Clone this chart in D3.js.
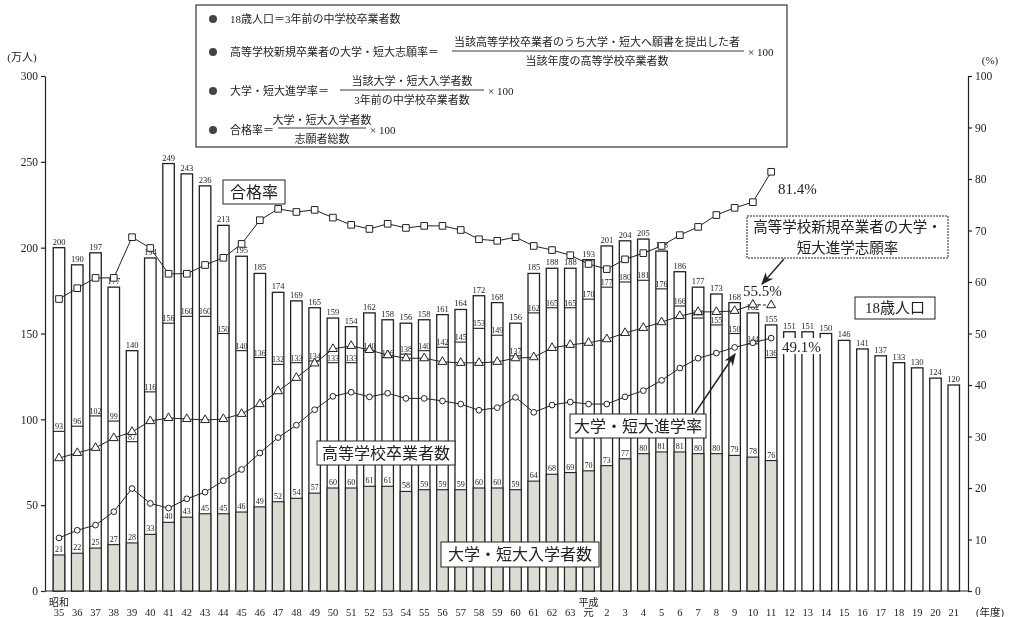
<!DOCTYPE html>
<html><head><meta charset="utf-8">
<script src="https://cdn.jsdelivr.net/npm/d3@7"></script>
<style>
body{margin:0;background:#fff;}
svg{will-change:transform;}
text{font-family:"Liberation Serif","Noto Sans CJK JP",serif;fill:#222;}
</style></head>
<body>
<svg id="c" width="1013" height="617"></svg>
<script>
// ---- data ----
const years = ["35","36","37","38","39","40","41","42","43","44","45","46","47","48","49","50","51","52","53","54","55","56","57","58","59","60","61","62","63","元","2","3","4","5","6","7","8","9","10","11","12","13","14","15","16","17","18","19","20","21"];
const pop18 = [200,190,197,177,140,194,249,243,236,213,195,185,174,169,165,159,154,162,158,156,158,161,164,172,168,156,185,188,188,193,201,204,205,198,186,177,173,168,162,155,151,151,150,146,141,137,133,130,124,120];
const hsGrads = [93,96,102,99,87,116,156,160,160,150,140,136,132,133,134,133,133,140,136,138,140,142,145,153,149,137,162,165,165,170,177,180,181,176,166,159,155,150,144,136];
const entrants = [21,22,25,27,28,33,40,43,45,45,46,49,52,54,57,60,60,61,61,58,59,59,59,60,60,59,64,68,69,70,73,77,80,81,81,80,80,79,78,76];
const passRate = [56.7,58.8,60.8,60.8,68.7,66.6,61.6,61.6,63.3,64.7,67.4,72.0,74.2,73.6,74.0,72.5,71.1,70.3,71.3,70.5,70.9,70.9,70.1,68.3,68.0,68.7,67.0,66.2,65.2,63.5,62.5,64.4,65.6,67.0,69.1,70.7,73.0,74.4,75.5,81.4];
const applyRate = [25.8,26.8,27.8,29.7,30.9,33.0,33.6,33.4,33.2,33.4,34.4,36.3,38.8,41.4,44.2,47.0,47.6,46.8,45.8,45.2,45.2,44.5,44.3,44.3,44.5,45.2,45.4,47.2,47.8,48.2,48.9,50.1,51.1,52.2,53.4,54.2,54.2,54.4,55.6,55.5];
const enrollRate = [10.3,11.8,12.8,15.4,19.9,17.0,16.1,17.9,19.2,21.4,23.6,26.8,29.8,32.2,35.2,37.8,38.6,37.7,38.4,37.4,37.4,36.9,36.3,35.1,35.6,37.6,34.7,36.1,36.7,36.3,36.3,37.7,38.9,40.9,43.3,45.2,46.2,47.3,48.2,49.1];
const leftTicks = [0,50,100,150,200,250,300];
const rightTicks = [0,10,20,30,40,50,60,70,80,90,100];

// ---- scales ----
const svg = d3.select("#c");
const x = d3.scaleBand().domain(years).range([49.87, 962.87]).paddingInner(0.37).paddingOuter(0.185);
const bw = x.bandwidth();
const cx = i => x(years[i]) + bw/2;
const yL = d3.scaleLinear().domain([0,300]).range([591,76]);
const yR = d3.scaleLinear().domain([0,100]).range([591,76]);
const INK = "#222";

svg.append("rect").attr("width",1013).attr("height",617).attr("fill","#fff");
svg.append("defs").append("marker").attr("id","arr").attr("viewBox","0 0 10 10")
  .attr("refX",9).attr("refY",5).attr("markerWidth",9).attr("markerHeight",9).attr("orient","auto")
  .append("path").attr("d","M0,1 L10,5 L0,9 L3,5 Z").attr("fill",INK);

// ---- axes ----
const gL = svg.append("g").attr("transform","translate(45,0)")
  .call(d3.axisLeft(yL).tickValues(leftTicks).tickSize(4).tickSizeOuter(0));
gL.selectAll("text").attr("font-size",11.5);
const gR = svg.append("g").attr("transform","translate(968,0)")
  .call(d3.axisRight(yR).tickValues(rightTicks).tickSize(4).tickSizeOuter(0));
gR.selectAll("text").attr("font-size",11.5);
svg.selectAll(".domain,.tick line").attr("stroke",INK).attr("stroke-width",1.2);
svg.append("line").attr("x1",45).attr("x2",968).attr("y1",yL(0)).attr("y2",yL(0)).attr("stroke",INK).attr("stroke-width",1.2);

svg.append("text").attr("x",22).attr("y",61).attr("text-anchor","middle").attr("font-size",11).text("(万人)");
svg.append("text").attr("x",990).attr("y",64).attr("text-anchor","middle").attr("font-size",11).text("(%)");

// year labels
svg.append("g").selectAll("text").data(years).join("text")
  .attr("x",d=>x(d)+bw/2).attr("y",616).attr("text-anchor","middle").attr("font-size",10.5).text(d=>d);
svg.append("text").attr("x",cx(0)).attr("y",606).attr("text-anchor","middle").attr("font-size",10).text("昭和");
svg.append("text").attr("x",cx(29)).attr("y",606).attr("text-anchor","middle").attr("font-size",10).text("平成");
svg.append("text").attr("x",990).attr("y",616).attr("text-anchor","middle").attr("font-size",10.5).text("(年度)");

// ---- bars ----
const gb = svg.append("g");
gb.selectAll("rect.pop").data(pop18).join("rect").attr("class","pop")
  .attr("x",(d,i)=>x(years[i])).attr("y",d=>yL(d)).attr("width",bw).attr("height",d=>yL(0)-yL(d))
  .attr("fill","#fff").attr("stroke",INK).attr("stroke-width",1.3);
gb.selectAll("rect.ent").data(entrants).join("rect").attr("class","ent")
  .attr("x",(d,i)=>x(years[i])).attr("y",d=>yL(d)).attr("width",bw).attr("height",d=>yL(0)-yL(d))
  .attr("fill","#dcdcd4").attr("stroke",INK).attr("stroke-width",1.1);
gb.selectAll("line.grad").data(hsGrads).join("line").attr("class","grad")
  .attr("x1",(d,i)=>x(years[i])).attr("x2",(d,i)=>x(years[i])+bw).attr("y1",d=>yL(d)).attr("y2",d=>yL(d))
  .attr("stroke",INK).attr("stroke-width",1.1);
gb.selectAll("text.grad").data(hsGrads).join("text").attr("class","grad")
  .attr("x",(d,i)=>cx(i)).attr("y",d=>yL(d)-2).attr("text-anchor","middle").attr("font-size",8).text(d=>d);
gb.selectAll("text.pop").data(pop18).join("text").attr("class","pop")
  .attr("x",(d,i)=>cx(i)).attr("y",d=>yL(d)-3).attr("text-anchor","middle").attr("font-size",8.5).text(d=>d);
gb.selectAll("text.ent").data(entrants).join("text").attr("class","ent")
  .attr("x",(d,i)=>cx(i)).attr("y",d=>yL(d)-3).attr("text-anchor","middle").attr("font-size",8).text(d=>d);

// ---- lines ----
function drawLine(vals, shape, size, dashLast){
  const g = svg.append("g");
  const pts = vals.map((v,i)=>[cx(i), yR(v)]);
  const ln = d3.line();
  const main = dashLast ? pts.slice(0, pts.length-1) : pts;
  g.append("path").attr("d",ln(main)).attr("fill","none").attr("stroke",INK).attr("stroke-width",1);
  if(dashLast) g.append("path").attr("d",ln(pts.slice(-2))).attr("fill","none").attr("stroke",INK).attr("stroke-width",1).attr("stroke-dasharray","3,2");
  const sym = d3.symbol().type(shape).size(size);
  g.selectAll("path.m").data(pts).join("path").attr("class","m")
    .attr("transform",p=>`translate(${p[0]},${p[1]})`).attr("d",sym)
    .attr("fill","#fff").attr("stroke",INK).attr("stroke-width",1);
}
drawLine(passRate, d3.symbolSquare, 44, false);
drawLine(applyRate, d3.symbolTriangle, 34, true);
drawLine(enrollRate, d3.symbolCircle, 26, false);

// ---- annotations ----
function box(x0,y0,w,h,lines,fs,dash){
  const g = svg.append("g");
  g.append("rect").attr("x",x0).attr("y",y0).attr("width",w).attr("height",h)
    .attr("fill","#fff").attr("stroke",INK).attr("stroke-width",1).attr("stroke-dasharray",dash||null);
  lines.forEach((t,k)=>g.append("text").attr("x",x0+w/2).attr("y",y0+ (h/(lines.length))*(k+0.5)+fs*0.36)
    .attr("text-anchor","middle").attr("font-size",fs).text(t));
}
box(223,180,62,24,["合格率"],16);
box(747,216,201,42,["高等学校新規卒業者の大学・","短大進学志願率"],14.5,"2,1");
box(855,297,80,22,["18歳人口"],15);
box(570,414,136,24,["大学・短大進学率"],16);
box(317,441,138,24,["高等学校卒業者数"],16);
box(441,542,158,25,["大学・短大入学者数"],16);

svg.append("text").attr("x",778).attr("y",194).attr("font-size",15).text("81.4%");
svg.append("text").attr("x",743).attr("y",296).attr("font-size",15).text("55.5%");
svg.append("rect").attr("x",781).attr("y",338).attr("width",42).attr("height",16).attr("fill","#fff");
svg.append("text").attr("x",782).attr("y",352).attr("font-size",15).text("49.1%");

svg.append("line").attr("x1",784).attr("y1",259).attr("x2",762).attr("y2",284)
  .attr("stroke",INK).attr("stroke-width",1.4).attr("marker-end","url(#arr)");
svg.append("line").attr("x1",695).attr("y1",413).attr("x2",735).attr("y2",354)
  .attr("stroke",INK).attr("stroke-width",1.4).attr("marker-end","url(#arr)");

// ---- legend ----
const lg = svg.append("g");
lg.append("rect").attr("x",196).attr("y",5).attr("width",591).attr("height",142)
  .attr("fill","#fff").attr("stroke",INK).attr("stroke-width",1.1);
const fs = 11;
const rowsY = [19,52,91,130];
rowsY.forEach(y=>lg.append("circle").attr("cx",213).attr("cy",y).attr("r",4).attr("fill","#444"));
function t(xp,yp,s,anchor){lg.append("text").attr("x",xp).attr("y",yp+4).attr("font-size",fs).attr("text-anchor",anchor||"start").text(s);}
function hl(x1,x2,yp){lg.append("line").attr("x1",x1).attr("x2",x2).attr("y1",yp).attr("y2",yp).attr("stroke",INK).attr("stroke-width",0.9);}
t(230,19,"18歳人口＝3年前の中学校卒業者数");
t(230,52,"高等学校新規卒業者の大学・短大志願率＝");
t(597,42,"当該高等学校卒業者のうち大学・短大へ願書を提出した者","middle");
hl(452,744,51);
t(597,61,"当該年度の高等学校卒業者数","middle");
t(748,52,"× 100");
t(230,91,"大学・短大進学率＝");
t(412,81,"当該大学・短大入学者数","middle");
hl(340,484,90);
t(412,100,"3年前の中学校卒業者数","middle");
t(488,91,"× 100");
t(230,130,"合格率＝");
t(322,120,"大学・短大入学者数","middle");
hl(278,366,128);
t(322,139,"志願者総数","middle");
t(370,130,"× 100");
</script>
</body></html>
